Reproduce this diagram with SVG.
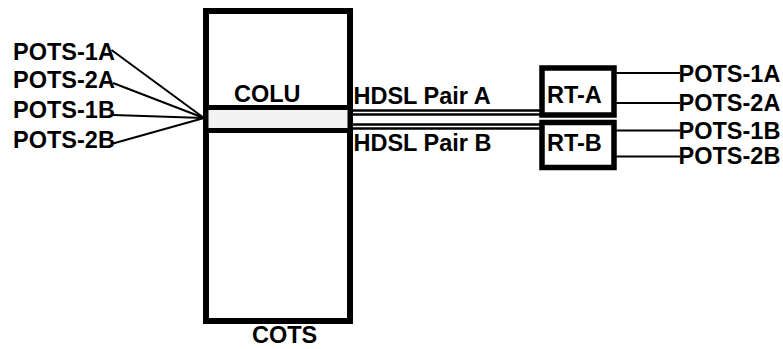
<svg xmlns="http://www.w3.org/2000/svg" width="783" height="349" viewBox="0 0 783 349">
<style>
text{font-family:"Liberation Sans",Arial,sans-serif;font-weight:bold;font-size:23.5px;fill:#000}
.box{fill:#fff;stroke:#000;stroke-width:6}
.rt{fill:#fff;stroke:#000;stroke-width:5.5}
.band{fill:#f2f2f2;stroke:#000;stroke-width:5}
.c{stroke:#000;stroke-width:2;fill:none}
.h{stroke:#000;stroke-width:2.5;fill:none}
</style>
<rect width="783" height="349" fill="#fff"/>
<g id="cots">
<rect class="box" x="206" y="11" width="144" height="310"/>
<text x="252" y="342.5">COTS</text>
</g>
<g id="colu">
<rect class="band" x="206" y="107.5" width="144" height="23"/>
<text x="234" y="102">COLU</text>
</g>
<g id="rt-a">
<rect class="rt" x="542" y="68" width="72" height="47"/>
<text x="547" y="103">RT-A</text>
</g>
<g id="rt-b">
<rect class="rt" x="542" y="122.5" width="72" height="45"/>
<text x="547" y="151">RT-B</text>
</g>
<g id="left-pots">
<text x="13" y="59.5">POTS-1A</text>
<text x="13" y="87.5">POTS-2A</text>
<text x="13" y="118">POTS-1B</text>
<text x="13" y="148">POTS-2B</text>
</g>
<g id="right-pots">
<text x="678.5" y="81.5">POTS-1A</text>
<text x="678.5" y="111">POTS-2A</text>
<text x="678.5" y="138.5">POTS-1B</text>
<text x="678.5" y="163.5">POTS-2B</text>
</g>
<g id="hdsl-labels">
<text x="353.5" y="104">HDSL Pair A</text>
<text x="353.5" y="151">HDSL Pair B</text>
</g>
<g id="connectors">
<line class="c" x1="111.5" y1="50" x2="204" y2="118"/>
<line class="c" x1="113" y1="83" x2="204" y2="118"/>
<line class="c" x1="113" y1="115" x2="204" y2="118"/>
<line class="c" x1="113" y1="143.5" x2="204" y2="118"/>
<line class="h" x1="352" y1="110.5" x2="540" y2="110.5"/>
<line class="h" x1="352" y1="114.5" x2="540" y2="114.5"/>
<line class="h" x1="352" y1="124.5" x2="540" y2="124.5"/>
<line class="h" x1="352" y1="128.5" x2="540" y2="128.5"/>
<line class="c" x1="616" y1="73" x2="680" y2="73"/>
<line class="c" x1="616" y1="103" x2="680" y2="103"/>
<line class="c" x1="616" y1="130.5" x2="680" y2="130.5"/>
<line class="c" x1="616" y1="156.5" x2="680" y2="156.5"/>
</g>
</svg>
